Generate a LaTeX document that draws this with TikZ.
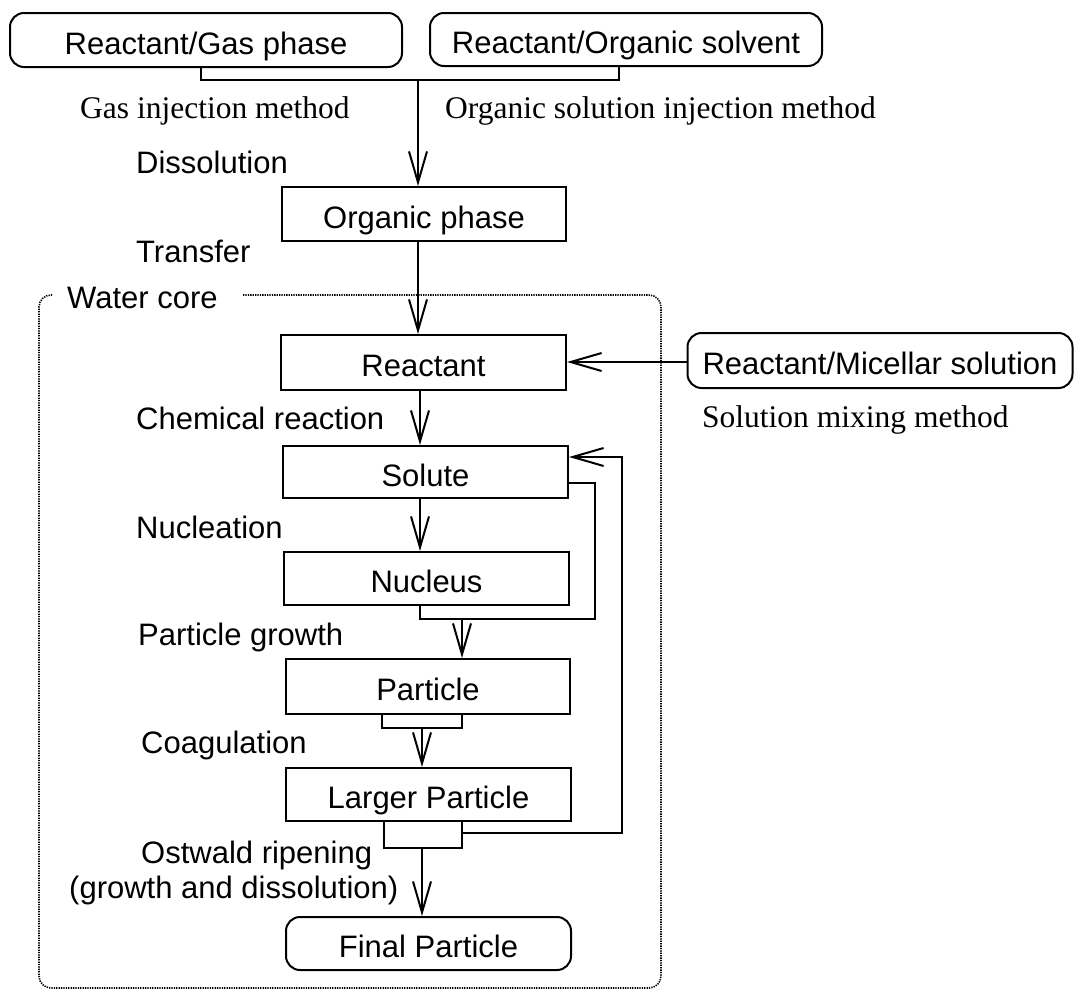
\documentclass[tikz,border=0pt]{standalone}
\usepackage{fontspec}
\setmainfont{Liberation Sans}
\newfontfamily\tnr{Liberation Serif}
\usetikzlibrary{arrows.meta}
\begin{document}
\begin{tikzpicture}[x=1pt,y=-1pt,
  box/.style={draw, line width=2pt, inner sep=0pt, text height=28pt, text depth=0pt,
              font=\fontsize{31}{36}\selectfont},
  rbox/.style={box, rounded corners=14pt},
  lbl/.style={anchor=base west, inner sep=0pt, font=\fontsize{31}{36}\selectfont},
  tlbl/.style={anchor=base west, inner sep=0pt, font=\tnr\fontsize{31.5}{36}\selectfont},
  conn/.style={line width=2pt},
  arr/.style={conn, -{Straight Barb[length=31pt,width=18pt]}},
  frame/.style={line width=1.6pt, dash pattern=on 1.3pt off 1.1pt, rounded corners=12pt}
]
\useasboundingbox (0,0) rectangle (1076,991);

% boxes
\node[rbox, minimum width=392pt, minimum height=54pt] (gas) at (206,40) {Reactant/Gas phase};
\node[rbox, minimum width=392pt, minimum height=53pt] (orgsolv) at (626,39.5) {Reactant/Organic solvent};
\node[box, minimum width=284pt, minimum height=54pt] (orgph) at (424,214) {Organic phase};
\node[box, minimum width=285pt, minimum height=55pt] (reac) at (423.5,362.5) {Reactant};
\node[box, minimum width=285pt, minimum height=52pt] (solute) at (425.5,472) {Solute};
\node[box, minimum width=285pt, minimum height=53pt] (nucleus) at (426.5,578.5) {Nucleus};
\node[box, minimum width=284pt, minimum height=55pt] (particle) at (428,686.5) {Particle};
\node[box, minimum width=285pt, minimum height=53pt] (larger) at (428.5,794.5) {Larger Particle};
\node[rbox, minimum width=285pt, minimum height=53pt] (final) at (428.5,943.5) {Final Particle};
\node[rbox, minimum width=385pt, minimum height=55pt] (micel) at (880,360.5) {Reactant/Micellar solution};

% labels
\node[tlbl] (gim) at (80,118) {Gas injection method};
\node[tlbl] (osim) at (445,118) {Organic solution injection method};
\node[lbl] (diss) at (136,173) {Dissolution};
\node[lbl] (trans) at (136,262) {Transfer};
\node[lbl] (wc) at (67,308) {Water core};
\node[lbl] (chem) at (136,429) {Chemical reaction};
\node[lbl] (nucl) at (136,538) {Nucleation};
\node[lbl] (pg) at (138,645) {Particle growth};
\node[lbl] (coag) at (141,753) {Coagulation};
\node[lbl] (ost) at (141,863) {Ostwald ripening};
\node[lbl] (gad) at (69,898) {(growth and dissolution)};
\node[tlbl] (smm) at (702,427) {Solution mixing method};

% water core frame
\draw[frame] (243,295) -- (661,295) -- (661,988) -- (39,988) -- (39,295) -- (52,295);

% coordinates
\coordinate (b1) at (201,80);
\coordinate (b2) at (619,80);
\coordinate (j1) at (418,80);
\coordinate (x420) at (420,0);
\coordinate (n1) at (420,619);
\coordinate (n2) at (595,619);
\coordinate (n3) at (595,483);
\coordinate (n4) at (462,619);
\coordinate (p1) at (382,728);
\coordinate (p2) at (462,728);
\coordinate (p3) at (422,728);
\coordinate (l1) at (384,848);
\coordinate (l2) at (462,848);
\coordinate (l3) at (422,848);
\coordinate (l4) at (462,833);
\coordinate (l5) at (622,833);
\coordinate (l6) at (622,457);
\coordinate (m1) at (0,362);

% connectors
\draw[conn] (gas.south -| b1) -- (b1) -- (b2) -- (orgsolv.south -| b2);
\draw[arr] (j1) -- (j1 |- orgph.north);
\draw[arr] (orgph.south -| j1) -- (reac.north -| j1);
\draw[arr] (micel.west |- m1) -- (reac.east |- m1);
\draw[arr] (reac.south -| x420) -- (solute.north -| x420);
\draw[arr] (solute.south -| x420) -- (nucleus.north -| x420);
\draw[conn] (nucleus.south -| n1) -- (n1) -- (n2) -- (n3) -- (n3 -| solute.east);
\draw[arr] (n4) -- (n4 |- particle.north);
\draw[conn] (particle.south -| p1) -- (p1) -- (p2) -- (particle.south -| p2);
\draw[arr] (p3) -- (p3 |- larger.north);
\draw[conn] (larger.south -| l1) -- (l1) -- (l2) -- (larger.south -| l2);
\draw[arr] (l4) -- (l5) -- (l6) -- (l6 -| solute.east);
\draw[arr] (l3) -- (l3 |- final.north);
\end{tikzpicture}
\end{document}
